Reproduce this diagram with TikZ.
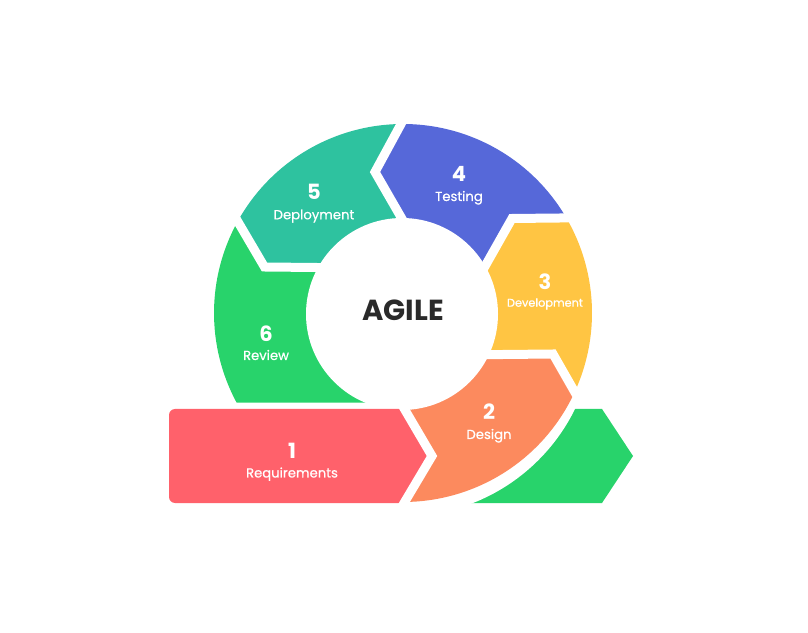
\documentclass[tikz,border=0pt]{standalone}
\usepackage{fontspec}
\setmainfont{Poppins}
\newfontfamily\wordfont{Poppins}[FakeBold=0.6]
\usetikzlibrary{calc}
\definecolor{cred}{HTML}{FF616B}
\definecolor{corange}{HTML}{FC8A5E}
\definecolor{cyellow}{HTML}{FFC543}
\definecolor{cblue}{HTML}{5668D9}
\definecolor{cteal}{HTML}{2EC29F}
\definecolor{cgreen}{HTML}{28D36B}
\definecolor{cdark}{HTML}{2A2A2A}
\begin{document}
\begin{tikzpicture}[x=1pt,y=1pt,
  num/.style={text=white,font=\bfseries\fontsize{21}{21}\selectfont,anchor=base,inner sep=0pt},
  lbl/.style={text=white,font=\wordfont\fontsize{13.2}{13.2}\selectfont,anchor=base,inner sep=0pt},
  gapline/.style={white,line width=9pt,line join=miter}]
\fill[white] (0,0) rectangle (808,632);
\useasboundingbox (0,0) rectangle (808,632);
\coordinate (C) at (403,319);
\coordinate (OA) at ($(C)+(-89.5:189)$);
\coordinate (TA) at (432,176);
\coordinate (IA) at ($(C)+(-89.5:95)$);
\coordinate (OB) at ($(C)+(-24.7:189)$);
\coordinate (TB) at ($(C)+(150,-41)$);
\coordinate (IB) at ($(C)+(-26:95)$);
\coordinate (OC) at ($(C)+(30.2:189)$);
\coordinate (TC) at ($(C)+(109,94.5)$);
\coordinate (IC) at ($(C)+(29.9:95)$);
\coordinate (OD) at ($(C)+(90.6:189)$);
\coordinate (TD) at ($(C)+(-28,141)$);
\coordinate (ID) at ($(C)+(90.9:95)$);
\coordinate (OE) at ($(C)+(151:189)$);
\coordinate (TE) at ($(C)+(-138.5,46)$);
\coordinate (IE) at ($(C)+(151.4:95)$);
\coordinate (IF) at (403,229.4);
% bottom-right green arrow
\fill[cgreen] (560,223) -- (602,223) -- (633,176) -- (602,129) -- (460,129) -- cycle;
\fill[white] (403,307.3) circle[radius=191.5pt];
% ring segments
\fill[corange] (OA) arc[start angle=-89.5,end angle=-24.7,radius=189pt] -- (TB) -- (IB) -- (C) -- (IA) -- (TA) -- cycle;
\fill[cyellow] (OB) arc[start angle=-24.7,end angle=30.2,radius=189pt] -- (TC) -- (IC) -- (C) -- (IB) -- (TB) -- cycle;
\fill[cblue] (OC) arc[start angle=30.2,end angle=90.6,radius=189pt] -- (TD) -- (ID) -- (C) -- (IC) -- (TC) -- cycle;
\fill[cteal] (OD) arc[start angle=90.6,end angle=151,radius=189pt] -- (TE) -- (IE) -- (C) -- (ID) -- (TD) -- cycle;
\fill[cgreen] (OE) arc[start angle=151,end angle=208.3,radius=189pt] -- (IF) -- (C) -- (IE) -- (TE) -- cycle;
% centre hole
\fill[white] (402,318) circle[radius=96pt];
% requirements arrow
\fill[cred, rounded corners=6pt] (169,180) -- (169,223) -- (300,223) [sharp corners] -- (405,223) -- (TA) -- (405,129) -- (300,129) [rounded corners=6pt] -- (169,129) -- cycle;
% gaps
\draw[gapline] ($(OA)!-7pt!(TA)$) -- (TA) -- ($(IA)!-7pt!(TA)$);
\draw[gapline] ($(OB)!-7pt!(TB)$) -- (TB) -- ($(IB)!-10pt!(TB)$);
\draw[gapline] ($(OC)!-10pt!(TC)$) -- (TC) -- ($(IC)!-10pt!(TC)$);
\draw[gapline] ($(OD)!-10pt!(TD)$) -- (TD) -- ($(ID)!-10pt!(TD)$);
\draw[gapline] ($(OE)!-10pt!(TE)$) -- (TE) -- ($(IE)!-10pt!(TE)$);
% labels
\node[num] (n1) at (292,173) {1};
\node[lbl] (l1) at (292,154.5) {Requirements};
\node[num] (n2) at (489,212) {2};
\node[lbl] (l2) at (489,193) {Design};
\node[num] (n3) at (545,342.8) {3};
\node[lbl,font=\wordfont\fontsize{11.3}{11.3}\selectfont] (l3) at (545,325.3) {Development};
\node[num] (n4) at (459,450.5) {4};
\node[lbl] (l4) at (459,431) {Testing};
\node[num] (n5) at (314,432) {5};
\node[lbl] (l5) at (314,412.7) {Deployment};
\node[num] (n6) at (266,290.5) {6};
\node[lbl] (l6) at (266,272) {Review};
\node[text=cdark,font=\bfseries\fontsize{29}{29}\selectfont,anchor=base,inner sep=0pt] (agile) at (403,311.3) {AGILE};
\end{tikzpicture}
\end{document}
